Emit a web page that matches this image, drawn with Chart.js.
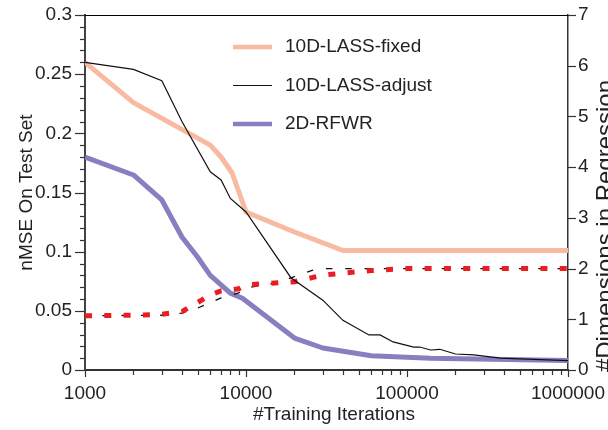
<!DOCTYPE html>
<html><head><meta charset="utf-8">
<script src="https://cdn.jsdelivr.net/npm/chart.js@4.4.1/dist/chart.umd.min.js"></script>
<style>html,body{margin:0;padding:0;background:#fff}#wrap{width:608px;height:430px;position:relative}</style>
</head><body><div id="wrap"><canvas id="c" width="608" height="430"></canvas></div>
<script>
const fixedIter = [1000, 2000, 6000, 7000, 8200, 10000, 20000, 40000, 1000000];
const fixedNmse = [0.260, 0.226, 0.190, 0.180, 0.1665, 0.1335, 0.1166, 0.101, 0.101];

const adjustIter = [1000, 2000, 3000, 4000, 6000, 7000, 8000, 10000, 19000, 30000, 40000, 58000, 68000, 82000, 110000, 120000, 140000, 160000, 200000, 260000, 380000, 1000000];
const adjustNmse = [0.260, 0.254, 0.2445, 0.210, 0.1675, 0.1606, 0.145, 0.1335, 0.078, 0.059, 0.042, 0.0296, 0.0296, 0.0237, 0.0194, 0.0194, 0.0169, 0.0175, 0.0135, 0.0127, 0.010, 0.008];

const rfwrIter = [1000, 2000, 3000, 4000, 5000, 6000, 8000, 9500, 20000, 30000, 60000, 140000, 1000000];
const rfwrNmse = [0.180, 0.1648, 0.1437, 0.1124, 0.0955, 0.080, 0.065, 0.0606, 0.027, 0.0186, 0.012, 0.010, 0.008];

const dimsRedIter = [1000, 2000, 3000, 4000, 5000, 6000, 7000, 9000, 10000, 20000, 30000, 40000, 60000, 100000, 1000000];
const dimsRed = [1.07, 1.08, 1.10, 1.15, 1.33, 1.48, 1.56, 1.60, 1.68, 1.74, 1.87, 1.91, 1.96, 2.0, 2.0];

const dimsBlackIter = [1000, 3000, 4000, 5000, 6000, 7000, 9000, 10000, 15000, 20000, 26000, 30000, 1000000];
const dimsBlack = [1.07, 1.08, 1.12, 1.22, 1.33, 1.42, 1.52, 1.62, 1.71, 1.84, 1.97, 2.0, 2.0];

const xTickValues = [1000, 10000, 100000, 1000000];
const nmseTickValues = [0, 0.05, 0.1, 0.15, 0.2, 0.25, 0.3];
const dimTickValues = [0, 1, 2, 3, 4, 5, 6, 7];

const seriesNames = ['10D-LASS-fixed', '10D-LASS-adjust', '2D-RFWR'];
const xTitle = '#Training Iterations';
const yTitle = 'nMSE On Test Set';
const y2Title = '#Dimensions in Regression';

const FAMILY = '"Liberation Sans", Arial, Helvetica, sans-serif';
const SALMON = 'rgb(248,186,160)';
const PURPLE = 'rgb(134,127,192)';
const RED = 'rgb(236,28,36)';

const pts = (xs, ys) => xs.map((x, i) => ({x: x, y: ys[i]}));
const zeroPad = s => { s.paddingLeft = 0; s.paddingRight = 0; s.paddingTop = 0; s.paddingBottom = 0; };

const decoPlugin = {
  id: 'deco',
  afterDraw(chart) {
    const {ctx, chartArea: a, scales} = chart;
    const sx = scales.x, sy = scales.y, sy2 = scales.y2;
    ctx.save();
    ctx.strokeStyle = '#000'; ctx.lineWidth = 1;
    ctx.beginPath(); ctx.moveTo(a.left, a.top + 0.5); ctx.lineTo(a.right, a.top + 0.5); ctx.stroke();
    ctx.strokeStyle = '#333'; ctx.lineWidth = 1.2;
    for (let i = 0; i <= 30; i++) {
      const p = Math.round(sy.getPixelForValue(i / 100)) + 0.5;
      const len = (i % 5 === 0) ? 10 : 5;
      ctx.beginPath(); ctx.moveTo(a.left - len, p); ctx.lineTo(a.left, p); ctx.stroke();
    }
    dimTickValues.forEach(v => {
      const p = Math.round(sy2.getPixelForValue(v)) + 0.5;
      ctx.beginPath(); ctx.moveTo(a.right, p); ctx.lineTo(a.right + 8, p); ctx.stroke();
    });
    xTickValues.forEach((d, k) => {
      const p = Math.round(sx.getPixelForValue(d)) + 0.5;
      ctx.beginPath(); ctx.moveTo(p, a.bottom); ctx.lineTo(p, a.bottom + 7); ctx.stroke();
      if (k < xTickValues.length - 1) {
        for (let m = 2; m <= 9; m++) {
          const q = Math.round(sx.getPixelForValue(d * m)) + 0.5;
          ctx.beginPath(); ctx.moveTo(q, a.bottom); ctx.lineTo(q, a.bottom + 5); ctx.stroke();
        }
      }
    });
    ctx.fillStyle = '#222';
    ctx.font = '19px ' + FAMILY;
    ctx.textAlign = 'center'; ctx.textBaseline = 'middle';
    ctx.fillText(xTitle, 334, 415);
    ctx.save();
    ctx.translate(606, 226);
    ctx.rotate(-Math.PI / 2);
    ctx.font = '24px ' + FAMILY;
    ctx.fillText(y2Title, 0, 0);
    ctx.restore();
    seriesNames.forEach((name, i) => {
      const d = chart.data.datasets.find(ds => ds.label === name);
      const yy = 47 + i * 38.5;
      ctx.strokeStyle = d.borderColor;
      ctx.lineWidth = d.legendWidth;
      ctx.setLineDash([]);
      ctx.beginPath(); ctx.moveTo(233, yy); ctx.lineTo(272, yy); ctx.stroke();
      ctx.fillStyle = '#222';
      ctx.font = '19px ' + FAMILY;
      ctx.textAlign = 'left'; ctx.textBaseline = 'middle';
      ctx.fillText(name, 285, yy);
    });
    ctx.restore();
  }
};

new Chart(document.getElementById('c'), {
  type: 'line',
  data: {
    datasets: [
      {label: seriesNames[1], data: pts(adjustIter, adjustNmse), yAxisID: 'y', borderColor: '#111', borderWidth: 1.2, pointRadius: 0, order: 1, legendWidth: 1.2},
      {label: 'dims (dotted)', data: pts(dimsRedIter, dimsRed), yAxisID: 'y2', borderColor: RED, borderWidth: 5, borderDash: [7, 12.3], pointRadius: 0, order: 2},
      {label: 'dims (dashed)', data: pts(dimsBlackIter, dimsBlack), yAxisID: 'y2', borderColor: '#111', borderWidth: 1.3, borderDash: [6.5, 12.8], borderDashOffset: 2, pointRadius: 0, order: 3},
      {label: seriesNames[2], data: pts(rfwrIter, rfwrNmse), yAxisID: 'y', borderColor: PURPLE, borderWidth: 5, borderJoinStyle: 'round', pointRadius: 0, order: 4, legendWidth: 4.5},
      {label: seriesNames[0], data: pts(fixedIter, fixedNmse), yAxisID: 'y', borderColor: SALMON, borderWidth: 5, borderJoinStyle: 'round', pointRadius: 0, order: 5, legendWidth: 4.5}
    ]
  },
  options: {
    responsive: false,
    animation: false,
    devicePixelRatio: 1,
    layout: {padding: {top: 15, left: 0, right: 0, bottom: 0}},
    plugins: {legend: {display: false}, tooltip: {enabled: false}},
    scales: {
      x: {
        type: 'logarithmic', position: 'bottom', min: 1000, max: 1000000,
        afterBuildTicks: s => { s.ticks = xTickValues.map(v => ({value: v})); },
        afterFit: s => { s.height = 60; zeroPad(s); },
        ticks: {callback: v => String(v), autoSkip: false, maxRotation: 0, padding: 12, color: '#222', font: {size: 19, family: FAMILY}},
        grid: {display: true, drawOnChartArea: false, drawTicks: false},
        border: {display: true, color: '#333', width: 2}
      },
      y: {
        type: 'linear', position: 'left', min: 0, max: 0.3,
        afterBuildTicks: s => { s.ticks = nmseTickValues.map(v => ({value: v})); },
        afterFit: s => { s.width = 85; zeroPad(s); },
        ticks: {callback: v => String(v), padding: 13, color: '#222', font: {size: 19, family: FAMILY}},
        grid: {display: true, drawOnChartArea: false, drawTicks: false},
        border: {display: true, color: '#444', width: 2},
        title: {display: true, text: yTitle, color: '#222', font: {size: 19, family: FAMILY}, padding: {top: 15, bottom: 0}}
      },
      y2: {
        type: 'linear', position: 'right', min: 0, max: 7,
        afterBuildTicks: s => { s.ticks = dimTickValues.map(v => ({value: v})); },
        afterFit: s => { s.width = 40; zeroPad(s); },
        ticks: {callback: v => String(v), padding: 10, color: '#222', font: {size: 19, family: FAMILY}},
        grid: {display: true, drawOnChartArea: false, drawTicks: false},
        border: {display: true, color: '#333', width: 1.5}
      }
    }
  },
  plugins: [decoPlugin]
});
</script>
</body></html>
